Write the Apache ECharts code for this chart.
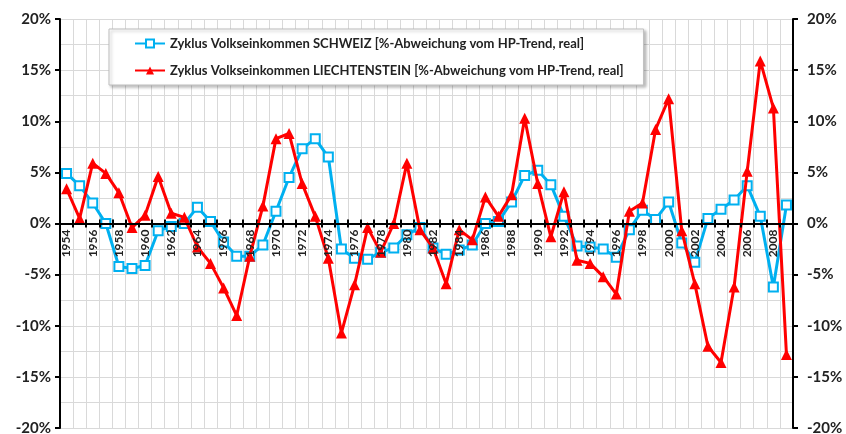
<!DOCTYPE html>
<html>
<head>
<meta charset="utf-8">
<script src="https://cdn.jsdelivr.net/npm/echarts@6/dist/echarts.min.js"></script>
<style>
  html, body { margin: 0; padding: 0; background: #fff; }
  #chart { width: 846px; height: 434px; }
</style>
</head>
<body>
<div id="chart"></div>
<script>
// Jahre 1954 - 2009
const years = []
for (let y = 1954; y <= 2009; y++) years.push(String(y))

// Zyklus Volkseinkommen SCHWEIZ, % Abweichung vom HP-Trend
const schweiz = [
  4.9, 3.7, 2.0, 0.0, -4.2, -4.4, -4.1, -0.7, -0.3, 0.0,
  1.6, 0.2, -1.8, -3.2, -3.2, -2.1, 1.2, 4.5, 7.3, 8.3,
  6.5, -2.5, -3.4, -3.5, -2.8, -2.4, -1.1, -0.4, -2.4, -3.0,
  -2.6, -2.1, 0.0, 0.2, 2.1, 4.7, 5.2, 3.8, 0.7, -2.2,
  -2.3, -2.5, -3.3, -0.6, 1.3, 0.4, 2.1, -1.9, -3.8, 0.5,
  1.4, 2.3, 3.7, 0.7, -6.2, 1.8
]

// Zyklus Volkseinkommen LIECHTENSTEIN
const liechtenstein = [
  3.4, 0.5, 5.9, 4.9, 3.0, -0.4, 0.8, 4.6, 1.0, 0.6,
  -2.3, -3.9, -6.3, -9.0, -3.2, 1.7, 8.3, 8.8, 3.9, 0.7,
  -3.4, -10.7, -6.0, -0.4, -2.8, 0.0, 5.9, -0.6, -2.4, -5.9,
  -0.6, -1.6, 2.6, 0.7, 2.8, 10.3, 3.9, -1.3, 3.1, -3.6,
  -3.9, -5.2, -6.9, 1.2, 2.0, 9.2, 12.2, -0.7, -5.9, -12.0,
  -13.6, -6.2, 5.1, 15.9, 11.3, -12.8
]

const labelFont = 'Lato, "Open Sans", sans-serif'
const gridColor = '#d9d9d9'
const plotTop = 19
const plotBottom = 6
const plotHeight = 434 - plotTop - plotBottom
// Nulllinie liegt in der Mitte (-20..20), Achse per offset dorthin schieben
const zeroOffset = -plotHeight / 2

const myChart = echarts.init(document.getElementById('chart'))

function yAxisDef(pos) {
  return {
    type: 'value',
    position: pos,
    min: -20,
    max: 20,
    interval: 5,
    axisLine: { show: true, lineStyle: { color: '#000', width: 2 } },
    axisTick: { show: true, length: 5, lineStyle: { color: '#000', width: 2 } },
    axisLabel: {
      formatter: '{value}%',
      color: '#222',
      fontFamily: labelFont,
      fontWeight: 'bold',
      fontSize: 15,
      margin: pos === 'left' ? 9 : 14
    },
    splitLine: { show: pos === 'left', lineStyle: { color: gridColor, width: 1 } },
    minorTick: { show: false, splitNumber: 2 },
    minorSplitLine: { show: pos === 'left', lineStyle: { color: gridColor, width: 1 } }
  }
}

// unten: Beschriftung über den Linien (z hoch), oben: nur Striche + Gitter
function xAxisDef(pos) {
  const isBottom = pos === 'bottom'
  return {
    type: 'category',
    data: years,
    position: pos,
    offset: zeroOffset,
    z: isBottom ? 5 : 0,
    axisLine: { onZero: false, lineStyle: { color: '#000', width: 2 } },
    axisTick: { show: true, interval: 0, length: 4, lineStyle: { color: '#000', width: 2 } },
    axisLabel: {
      show: isBottom,
      interval: 1,
      rotate: 90,
      margin: 6,
      color: '#222',
      fontFamily: labelFont,
      fontWeight: 'bold',
      fontSize: 12
    },
    splitLine: { show: !isBottom, interval: 0, lineStyle: { color: gridColor, width: 1 } }
  }
}

myChart.setOption({
  animation: false,
  backgroundColor: '#fff',
  grid: { left: 60, right: 53, top: plotTop, bottom: plotBottom, outerBoundsMode: 'none', containLabel: false },
  legend: {
    orient: 'vertical',
    left: 109,
    top: 29,
    padding: [8, 20, 8, 25],
    itemGap: 14,
    itemWidth: 30,
    itemHeight: 10,
    backgroundColor: '#fff',
    borderColor: '#bfbfbf',
    borderWidth: 1,
    shadowColor: 'rgba(0,0,0,0.25)',
    shadowBlur: 3,
    shadowOffsetX: 2,
    shadowOffsetY: 2,
    textStyle: { color: '#222', fontFamily: labelFont, fontWeight: 'bold', fontSize: 13 }
  },
  xAxis: [xAxisDef('bottom'), xAxisDef('top')],
  yAxis: [yAxisDef('left'), yAxisDef('right')],
  series: [
    {
      name: 'Zyklus Volkseinkommen SCHWEIZ [%-Abweichung vom HP-Trend, real]',
      type: 'line',
      data: schweiz,
      color: '#00B0F0',
      symbol: 'rect',
      symbolSize: 9,
      showAllSymbol: true,
      z: 3,
      lineStyle: { width: 3, color: '#00B0F0' },
      itemStyle: { color: '#fff', borderColor: '#00B0F0', borderWidth: 2 }
    },
    {
      name: 'Zyklus Volkseinkommen LIECHTENSTEIN [%-Abweichung vom HP-Trend, real]',
      type: 'line',
      data: liechtenstein,
      color: '#FF0000',
      symbol: 'triangle',
      symbolSize: 11,
      showAllSymbol: true,
      z: 4,
      lineStyle: { width: 3, color: '#FF0000' },
      itemStyle: { color: '#FF0000' }
    }
  ]
})
</script>
</body>
</html>
